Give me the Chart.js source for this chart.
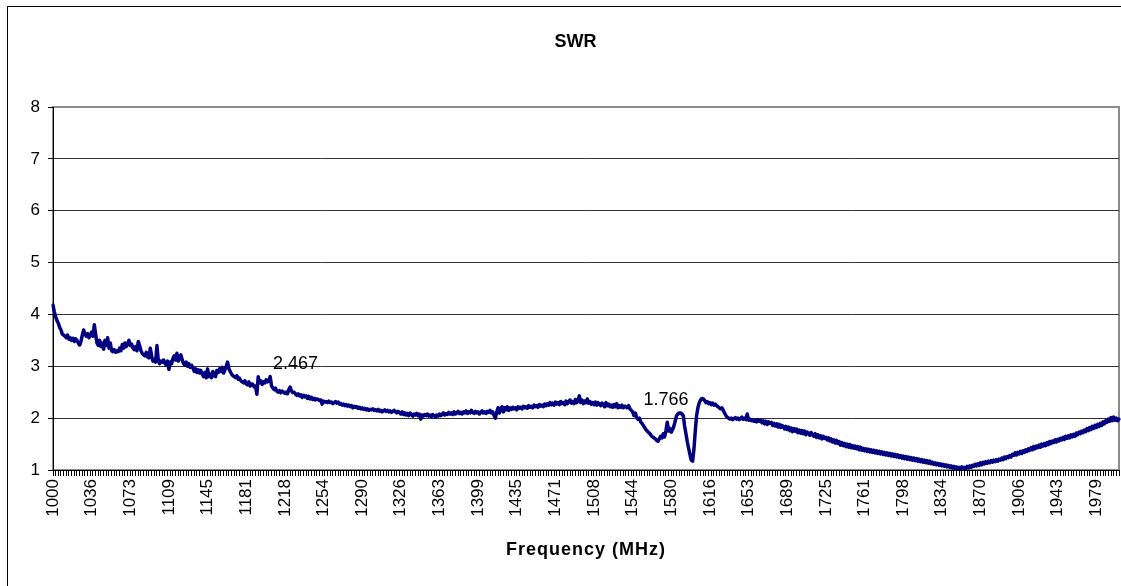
<!DOCTYPE html>
<html>
<head>
<meta charset="utf-8">
<title>SWR</title>
<script src="https://cdn.jsdelivr.net/npm/chart.js@4.4.1/dist/chart.umd.min.js"></script>
<style>
  html, body { margin: 0; padding: 0; background: #fff; }
  canvas { display: block; }
</style>
</head>
<body>
<canvas id="swrChart" width="1121" height="586"></canvas>
<script>
// SWR sweep 1000 - 2000 MHz, 801 points (1.25 MHz step)
const chartTitle = "SWR";
const xTitle = "Frequency (MHz)";

// category labels shown on the axis, one every 29 points
const tickLabels = ["1000", "1036", "1073", "1109", "1145", "1181", "1218", "1254", "1290", "1326",
  "1363", "1399", "1435", "1471", "1508", "1544", "1580", "1616", "1653", "1689",
  "1725", "1761", "1798", "1834", "1870", "1906", "1943", "1979"];
const tickEvery = 29;

const yTicks = [1, 2, 3, 4, 5, 6, 7, 8];

// points that carry a data label
const labelledPoints = [182, 460];

const swr = [
  4.18, 4.05, 3.95, 3.88, 3.83, 3.75, 3.7, 3.62, 3.6, 3.58, 3.55, 3.6, 3.52, 3.55, 3.5, 3.54, 3.48, 3.53, 3.5, 3.45, 3.41,
  3.48, 3.6, 3.7, 3.62, 3.58, 3.63, 3.55, 3.6, 3.66, 3.58,
  3.8, 3.62, 3.45, 3.4, 3.5, 3.38, 3.45, 3.33, 3.5, 3.4,
  3.55, 3.35, 3.45, 3.3, 3.28, 3.32, 3.27, 3.3, 3.28, 3.35,
  3.3, 3.42, 3.35, 3.45, 3.38, 3.44, 3.5, 3.4, 3.43, 3.35,
  3.32, 3.38, 3.3, 3.48, 3.4, 3.3, 3.25, 3.22, 3.2, 3.27,
  3.18, 3.16, 3.35, 3.2, 3.1, 3.12, 3.08, 3.4, 3.12, 3.05,
  3.1, 3.08, 3.12, 3.06, 3.02, 3.1, 2.94, 3.08, 3.05, 3.15,
  3.2, 3.12, 3.25, 3.1, 3.18, 3.22, 3.12, 3.05, 3.02, 3.08,
  3.0, 3.05, 2.98, 3.02, 2.97, 2.9, 2.95, 2.88, 2.93, 2.87,
  2.92, 2.85, 2.8, 2.88, 2.78, 2.95, 2.8, 2.85, 2.78, 2.9,
  2.82, 2.8, 2.92, 2.88, 2.95, 2.9, 2.98, 2.87, 2.93, 3.0,
  3.08, 2.95, 2.9, 2.85, 2.82, 2.8, 2.78, 2.82, 2.75, 2.77,
  2.72, 2.7, 2.68, 2.72, 2.66, 2.64, 2.7, 2.62, 2.66, 2.65,
  2.6, 2.62, 2.46, 2.8, 2.68, 2.72, 2.65, 2.7, 2.68, 2.74,
  2.7, 2.72, 2.8, 2.62, 2.58, 2.55, 2.58, 2.52, 2.5, 2.53,
  2.49, 2.52, 2.5, 2.48, 2.5, 2.47, 2.55, 2.6, 2.52, 2.49,
  2.5, 2.467, 2.44, 2.47, 2.43, 2.45, 2.4, 2.44, 2.41, 2.43,
  2.38, 2.42, 2.37, 2.4, 2.36, 2.38, 2.35, 2.37, 2.36, 2.34,
  2.35, 2.27, 2.33, 2.31, 2.32, 2.3, 2.33, 2.3, 2.31, 2.28,
  2.3, 2.32, 2.29, 2.31, 2.27, 2.28, 2.25, 2.27, 2.24, 2.26,
  2.23, 2.25, 2.22, 2.24, 2.2, 2.23, 2.21, 2.22, 2.19, 2.21,
  2.18, 2.2, 2.17, 2.19, 2.16, 2.18, 2.15, 2.17, 2.16, 2.18,
  2.15, 2.16, 2.14, 2.17, 2.13, 2.15, 2.12, 2.14, 2.16, 2.13,
  2.15, 2.12, 2.14, 2.11, 2.13, 2.15, 2.12, 2.1, 2.13, 2.11,
  2.08, 2.12, 2.07, 2.1, 2.06, 2.09, 2.05, 2.1, 2.07, 2.04,
  2.08, 2.06, 2.09, 2.05, 2.08, 1.98, 2.06, 2.04, 2.07, 2.05,
  2.08, 2.04, 2.06, 2.03, 2.07, 2.05, 2.02, 2.06, 2.04, 2.08,
  2.05, 2.07, 2.1, 2.06, 2.09, 2.07, 2.11, 2.08, 2.1, 2.07,
  2.12, 2.08, 2.1, 2.13, 2.09, 2.11, 2.08, 2.12, 2.1, 2.14,
  2.09, 2.12, 2.1, 2.15, 2.11, 2.09, 2.13, 2.1, 2.12, 2.08,
  2.11, 2.14, 2.1, 2.12, 2.09, 2.13, 2.11, 2.15, 2.1, 2.12,
  2.05, 2.0, 2.12, 2.2, 2.1, 2.18, 2.22, 2.12, 2.2, 2.16,
  2.22, 2.15, 2.2, 2.17, 2.21, 2.18, 2.2, 2.16, 2.22, 2.19,
  2.21, 2.18, 2.23, 2.2, 2.22, 2.19, 2.24, 2.21, 2.23, 2.2,
  2.25, 2.22, 2.24, 2.21, 2.26, 2.23, 2.25, 2.22, 2.27, 2.24,
  2.28, 2.25, 2.3, 2.26, 2.29, 2.25, 2.31, 2.27, 2.3, 2.26,
  2.32, 2.28, 2.3, 2.26, 2.33, 2.28, 2.31, 2.35, 2.29, 2.32,
  2.28, 2.36, 2.3, 2.34, 2.43, 2.3, 2.35, 2.28, 2.33, 2.3,
  2.37, 2.29, 2.32, 2.27, 2.3, 2.26, 2.31, 2.25, 2.3, 2.27,
  2.24, 2.29, 2.26, 2.22, 2.3, 2.24, 2.27, 2.22, 2.25, 2.21,
  2.26, 2.22, 2.28, 2.2, 2.24, 2.21, 2.25, 2.2, 2.23, 2.22,
  2.2, 2.24, 2.18, 2.15, 2.12, 2.05, 2.1, 2.02, 1.98, 2.0,
  1.93, 1.9, 1.86, 1.82, 1.78, 1.75, 1.72, 1.7, 1.66, 1.64,
  1.62, 1.6, 1.57, 1.55, 1.6, 1.65, 1.62, 1.7, 1.64, 1.766,
  1.92, 1.75, 1.8, 1.73, 1.78, 1.85, 1.95, 2.05, 2.08, 2.1,
  2.1, 2.08, 2.05, 1.85, 1.7, 1.55, 1.42, 1.3, 1.19, 1.17,
  1.4, 1.75, 2.05, 2.2, 2.3, 2.35, 2.38, 2.37, 2.34, 2.3,
  2.32, 2.28, 2.3, 2.26, 2.29, 2.25, 2.27, 2.24, 2.22, 2.2,
  2.18, 2.2, 2.15, 2.1, 2.05, 2.02, 2.0, 1.98, 2.0, 1.97,
  1.99, 2.01, 1.98, 2.0, 1.97, 1.99, 2.02, 1.98, 2.0, 1.97,
  2.08, 1.96, 1.98, 1.95, 1.97, 1.94, 1.96, 1.93, 1.97, 1.94,
  1.96, 1.91, 1.95, 1.89, 1.94, 1.88, 1.93, 1.9, 1.92, 1.86,
  1.9, 1.85, 1.89, 1.83, 1.88, 1.82, 1.86, 1.84, 1.79, 1.84,
  1.78, 1.83, 1.76, 1.81, 1.74, 1.8, 1.75, 1.79, 1.72, 1.77,
  1.71, 1.76, 1.7, 1.75, 1.68, 1.73, 1.71, 1.67, 1.72, 1.68,
  1.65, 1.7, 1.63, 1.68, 1.62, 1.66, 1.6, 1.65, 1.61, 1.63,
  1.58, 1.62, 1.56, 1.6, 1.54, 1.58, 1.52, 1.57, 1.51, 1.55,
  1.48, 1.53, 1.47, 1.51, 1.45, 1.5, 1.44, 1.49, 1.43, 1.47,
  1.42, 1.46, 1.41, 1.45, 1.39, 1.44, 1.38, 1.42, 1.37, 1.41,
  1.36, 1.4, 1.35, 1.39, 1.34, 1.38, 1.33, 1.37, 1.32, 1.36,
  1.31, 1.35, 1.3, 1.34, 1.29, 1.33, 1.28, 1.32, 1.27, 1.31,
  1.26, 1.3, 1.25, 1.29, 1.24, 1.28, 1.23, 1.27, 1.22, 1.26,
  1.21, 1.25, 1.2, 1.24, 1.19, 1.23, 1.18, 1.22, 1.17, 1.21,
  1.16, 1.2, 1.15, 1.19, 1.14, 1.18, 1.13, 1.17, 1.12, 1.15,
  1.11, 1.14, 1.1, 1.13, 1.09, 1.12, 1.08, 1.11, 1.07, 1.1,
  1.06, 1.09, 1.05, 1.08, 1.04, 1.07, 1.03, 1.06, 1.02, 1.05,
  1.03, 1.06, 1.02, 1.05, 1.03, 1.07, 1.04, 1.08, 1.05, 1.09,
  1.07, 1.11, 1.08, 1.12, 1.09, 1.14, 1.1, 1.15, 1.12, 1.16,
  1.13, 1.17, 1.14, 1.18, 1.15, 1.19, 1.16, 1.2, 1.17, 1.21,
  1.19, 1.23, 1.2, 1.25, 1.22, 1.26, 1.24, 1.28, 1.25, 1.3,
  1.28, 1.33, 1.29, 1.34, 1.31, 1.36, 1.32, 1.37, 1.34, 1.39,
  1.36, 1.41, 1.38, 1.43, 1.39, 1.45, 1.41, 1.46, 1.43, 1.48,
  1.44, 1.5, 1.46, 1.51, 1.47, 1.53, 1.49, 1.55, 1.51, 1.56,
  1.53, 1.58, 1.54, 1.59, 1.56, 1.61, 1.58, 1.63, 1.59, 1.65,
  1.61, 1.66, 1.62, 1.68, 1.64, 1.69, 1.65, 1.71, 1.68, 1.73,
  1.7, 1.75, 1.72, 1.77, 1.74, 1.8, 1.76, 1.82, 1.78, 1.84,
  1.8, 1.86, 1.82, 1.88, 1.84, 1.9, 1.86, 1.93, 1.89, 1.95,
  1.92, 1.98, 1.94, 2.01, 1.95, 2.02, 1.96, 2.0, 1.95, 1.98
];

const FONT = "Arial, 'Liberation Sans', sans-serif";

// frame, plot border and chart title
const framePlugin = {
  id: "frame",
  beforeDraw(chart) {
    const { ctx, chartArea: a } = chart;
    ctx.save();
    ctx.fillStyle = "#fff";
    ctx.fillRect(0, 0, chart.width, chart.height);
    ctx.strokeStyle = "#000";
    ctx.lineWidth = 1;
    ctx.strokeRect(7.5, 6.5, chart.width + 40, chart.height + 40);
    ctx.strokeStyle = "#8c8c8c";
    ctx.lineWidth = 2;
    ctx.strokeRect(a.left, a.top, a.right - a.left, a.bottom - a.top);
    ctx.fillStyle = "#000";
    ctx.font = "bold 18px " + FONT;
    ctx.textAlign = "center";
    ctx.textBaseline = "middle";
    ctx.fillText(chartTitle, chart.width / 2 + 15, 42);
    // axis title, a bit wider spaced like the original
    ctx.font = "bold 18px " + FONT;
    if ("letterSpacing" in ctx) ctx.letterSpacing = "1px";
    ctx.fillText(xTitle, (a.left + a.right) / 2, 550);
    ctx.restore();
  }
};

// value labels above selected points
const pointLabels = {
  id: "pointLabels",
  afterDatasetsDraw(chart) {
    const { ctx } = chart;
    const meta = chart.getDatasetMeta(0);
    ctx.save();
    ctx.fillStyle = "#000";
    ctx.font = "18px " + FONT;
    ctx.textAlign = "center";
    ctx.textBaseline = "middle";
    labelledPoints.forEach(i => {
      const pt = meta.data[i];
      ctx.fillText(String(swr[i]), pt.x, pt.y - 30);
    });
    ctx.restore();
  }
};

new Chart(document.getElementById("swrChart"), {
  type: "line",
  data: {
    labels: swr.map((v, i) => i),
    datasets: [{
      data: swr,
      borderColor: "#000080",
      borderWidth: 3.5,
      borderJoinStyle: "round",
      borderCapStyle: "round",
      pointRadius: 0,
      tension: 0,
      fill: false
    }]
  },
  options: {
    responsive: false,
    animation: false,
    devicePixelRatio: 1,
    layout: { padding: { top: 107, right: 2, bottom: 0, left: 0 } },
    plugins: {
      legend: { display: false },
      tooltip: { enabled: false },
      title: { display: false }
    },
    scales: {
      x: {
        type: "category",
        offset: false,
        grid: {
          drawOnChartArea: false,
          drawTicks: true,
          tickLength: 6,
          color: c => (c.index % 2 === 0 ? "#000" : "rgba(0,0,0,0)")
        },
        border: { color: "#000", width: 1 },
        ticks: {
          autoSkip: false,
          minRotation: 90,
          maxRotation: 90,
          padding: 3,
          color: "#000",
          font: { family: FONT, size: 17 },
          callback: (v, i) => (i % tickEvery === 0 ? tickLabels[i / tickEvery] : "")
        },
        afterFit(scale) {
          scale.height = 116;
          scale.paddingLeft = 0;
          scale.paddingRight = 0;
        }
      },
      y: {
        min: yTicks[0],
        max: yTicks[yTicks.length - 1],
        grid: {
          color: c => (c.tick && c.tick.value === yTicks[yTicks.length - 1] ? "rgba(0,0,0,0)" : "#333"),
          tickColor: "#000",
          tickLength: 5,
          lineWidth: 1
        },
        border: { color: "#000", width: 1 },
        ticks: {
          stepSize: 1,
          padding: 8,
          color: "#000",
          font: { family: FONT, size: 17 }
        },
        afterFit(scale) {
          scale.width = 53;
        }
      }
    }
  },
  plugins: [framePlugin, pointLabels]
});
</script>
</body>
</html>
